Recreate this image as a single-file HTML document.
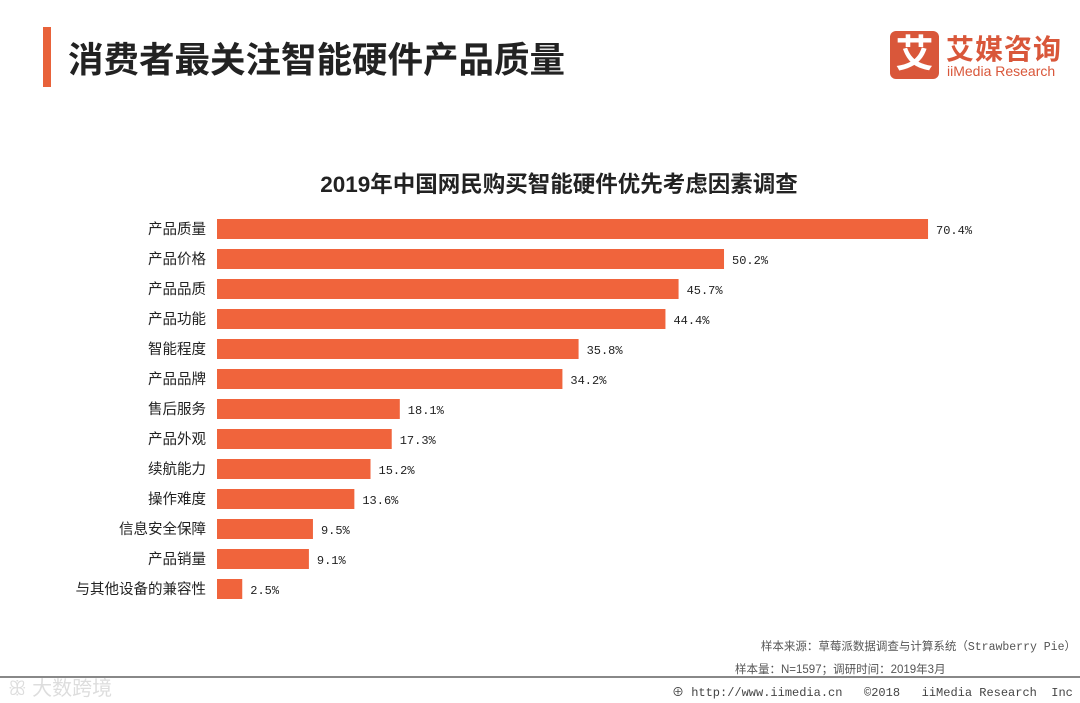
<!DOCTYPE html>
<html><head><meta charset="utf-8"><style>
body{margin:0;width:1080px;height:703px;background:#fff;font-family:"Liberation Sans","Noto Sans CJK SC",sans-serif;position:relative;overflow:hidden}
.abs{position:absolute}
</style></head><body>
<div class="abs" style="left:43px;top:27px;width:8px;height:60px;background:#e8623a"></div>
<div class="abs" style="left:68px;top:32px;font-size:35.5px;font-weight:bold;color:#222">消费者最关注智能硬件产品质量</div>
<div class="abs" style="left:890px;top:31px;width:49px;height:48px;background:#d9573a;border-radius:6px;color:#fff;font-size:38px;font-weight:bold;text-align:center;line-height:48px">艾</div>
<div class="abs" style="left:946px;top:28px;font-size:28px;font-weight:bold;color:#d9573a;letter-spacing:1px">艾媒咨询</div>
<div class="abs" style="left:947px;top:63px;font-size:14px;color:#d9573a">iiMedia Research</div>
<svg class="abs" style="left:0;top:0" width="1080" height="703">
<text x="559" y="192" text-anchor="middle" font-size="22.5" font-weight="bold" fill="#222">2019年中国网民购买智能硬件优先考虑因素调查</text>
<g id="bars"></g>
<line x1="0" y1="677" x2="1080" y2="677" stroke="#888" stroke-width="2"/>
</svg>
<div class="abs" style="right:4px;top:638px;font-size:11.5px;color:#555;font-family:'Liberation Mono','Noto Sans CJK SC',monospace">样本来源：草莓派数据调查与计算系统（Strawberry Pie）</div>
<div class="abs" style="left:735px;top:661px;font-size:11.5px;color:#555">样本量：N=1597；调研时间：2019年3月</div>
<div class="abs" style="left:672px;top:683px;font-size:12px;color:#444;font-family:'Liberation Mono','Noto Sans CJK SC',monospace">⊕ http://www.iimedia.cn &nbsp; ©2018 &nbsp; iiMedia Research &nbsp;Inc</div>
<div class="abs" style="left:8px;top:672px;font-size:20px;color:#ddd">ꕥ 大数跨境</div>
<script>
const categories=["产品质量","产品价格","产品品质","产品功能","智能程度","产品品牌","售后服务","产品外观","续航能力","操作难度","信息安全保障","产品销量","与其他设备的兼容性"];
const values=[70.4,50.2,45.7,44.4,35.8,34.2,18.1,17.3,15.2,13.6,9.5,9.1,2.5];
const labels=["70.4%","50.2%","45.7%","44.4%","35.8%","34.2%","18.1%","17.3%","15.2%","13.6%","9.5%","9.1%","2.5%"];
const x0=217,pxPer=10.1,y0=229,step=30,bh=20;
const xs=v=>x0+v*pxPer, ys=i=>y0+i*step;
const g=document.getElementById('bars'),NS='http://www.w3.org/2000/svg';
categories.forEach((c,i)=>{
 const r=document.createElementNS(NS,'rect');
 r.setAttribute('x',x0);r.setAttribute('y',ys(i)-bh/2);r.setAttribute('width',xs(values[i])-x0);r.setAttribute('height',bh);r.setAttribute('fill','#f0643c');
 
 
 g.appendChild(r);
 const t=document.createElementNS(NS,'text');
 t.setAttribute('x',x0-11);t.setAttribute('y',ys(i)+5);t.setAttribute('text-anchor','end');t.setAttribute('font-size','14.5');t.setAttribute('fill','#222');t.textContent=c;
 
 
 g.appendChild(t);
 const v=document.createElementNS(NS,'text');
 v.setAttribute('x',xs(values[i])+8);v.setAttribute('y',ys(i)+5);v.setAttribute('font-size','12');v.setAttribute('font-family','Liberation Mono, monospace');v.setAttribute('fill','#222');v.textContent=labels[i];
 
 
 g.appendChild(v);
});
</script>
</body></html>
